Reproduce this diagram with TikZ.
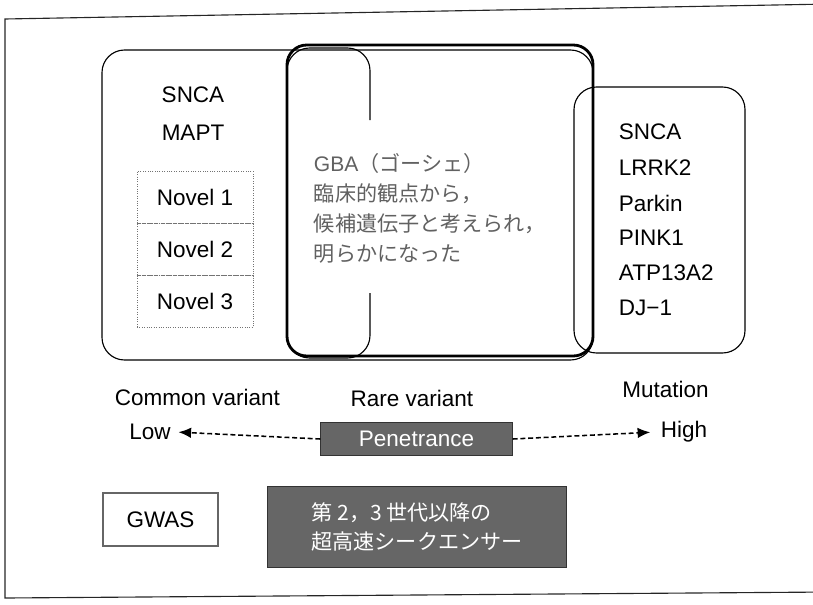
\documentclass[tikz,border=0pt]{standalone}
\usepackage{fontspec}
\setmainfont{Liberation Sans}
\newfontfamily\cjk{Noto Sans CJK JP}
\usetikzlibrary{arrows.meta,positioning}

\tikzset{
  lbl/.style={font=\fontsize{16}{19}\selectfont, text=black},
  novelbox/.style={draw=black!55, densely dotted, line width=0.7pt, minimum width=82.5pt, minimum height=37pt, lbl},
  darkbox/.style={fill=black!60, draw=black!80, line width=0.8pt, text=white},
  dasharrow/.style={line width=1.1pt, dash pattern=on 3.5pt off 2pt, -{Latex[length=9pt,width=7.5pt]}},
}

\begin{document}
\begin{tikzpicture}[x=0.025cm, y=-0.025cm]
\useasboundingbox (0,0) rectangle (813,604);

%Frame
\draw[line width=0.8pt, black!85] (830,4) -- (5,19) -- (5,598) -- (830,592);

%Common variant box
\draw[line width=0.8pt, rounded corners=16pt] (102,50) rectangle (593,360);
\draw[line width=0.8pt, rounded corners=16pt] (370,120) -- (370,48) -- (287,48) -- (287,358) -- (370,358) -- (370,293);

%Rare variant box
\draw[line width=2pt, rounded corners=14pt] (287,45) rectangle (593,356);

%Mutation box
\draw[line width=0.8pt, rounded corners=16pt] (574,87) rectangle (745,353);

%Genes
\node[lbl] (snca) at (193,95) {SNCA};
\node[lbl] (mapt) at (193,133) {MAPT};
\node[novelbox] (novel1) at (195,197.5) {Novel 1};
\node[novelbox, below=-0.7pt of novel1] (novel2) {Novel 2};
\node[novelbox, below=-0.7pt of novel2] (novel3) {Novel 3};

\node[anchor=west, align=left, text=black!62, font=\cjk\fontsize{15}{21.3}\selectfont] (gba) at (309,208)
  {{\normalfont GBA}（ゴーシェ）\\臨床的観点から，\\候補遺伝子と考えられ，\\明らかになった};

\foreach \name/\gene/\y in {m1/SNCA/132, m2/LRRK2/168, m3/Parkin/203, m4/PINK1/238, m5/ATP13A2/273, m6/DJ−1/308}
  \node[lbl, anchor=west] (\name) at (614,\y) {\gene};

%Variants
\node[lbl] (common) at (197.5,397) {Common variant};
\node[lbl] (rare) at (412,398) {Rare variant};
\node[lbl] (mutation) at (665.5,389) {Mutation};

%Penetrance
\node[darkbox, lbl, text=white, minimum width=136pt, minimum height=24pt] (pen) at (416.5,439) {Penetrance};
\node[lbl] (low) at (150,432) {Low};
\node[lbl] (high) at (684,432) {High};
\draw[dasharrow, shorten >=2pt] (pen.west) -- (low.east);
\draw[dasharrow, shorten >=4pt] (pen.east) -- (high.west);

%Methods
\node[lbl, draw=black!60, line width=1.3pt, minimum width=82pt, minimum height=38pt] (gwas) at (160.5,519.5) {GWAS};
\node[darkbox, align=left, minimum width=213pt, minimum height=57pt, font=\cjk\fontsize{15}{20.6}\selectfont] (seq) at (417,527)
  {第 2，3 世代以降の\\超高速シークエンサー};

\end{tikzpicture}
\end{document}
